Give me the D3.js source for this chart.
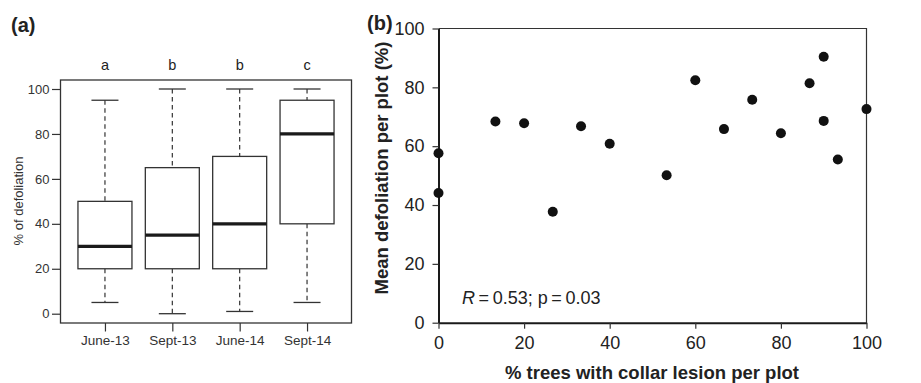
<!DOCTYPE html>
<html>
<head>
<meta charset="utf-8">
<script src="https://cdn.jsdelivr.net/npm/d3@7"></script>
<style>
  body { margin: 0; background: #fff; }
  svg { display: block; font-family: "Liberation Sans", Arial, Helvetica, sans-serif; }
</style>
</head>
<body>
<svg id="chart" width="921" height="383"></svg>
<script>
// panel (a) boxplot summaries
var periods = ["June-13", "Sept-13", "June-14", "Sept-14"];
var groupLetters = ["a", "b", "b", "c"];
var whiskerLow = [5, 0, 1, 5];
var quart1 = [20, 20, 20, 40];
var medians = [30, 35, 40, 80];
var quart3 = [50, 65, 70, 95];
var whiskerHigh = [95, 100, 100, 100];
var boxTicks = [0, 20, 40, 60, 80, 100];

// panel (b) scatter
var lesionPct = [0, 0, 13.3, 20, 26.7, 33.3, 40, 53.3, 60, 66.7, 73.3, 80, 86.7, 90, 90, 93.3, 100];
var meanDefol = [57.6, 44.1, 68.4, 67.8, 37.7, 66.8, 60.8, 50.1, 82.4, 65.8, 75.8, 64.4, 81.4, 90.4, 68.6, 55.5, 72.6];
var scatterTicks = [0, 20, 40, 60, 80, 100];

var svg = d3.select("#chart");

// ---------- panel (a) ----------
var a = {left: 60.5, right: 351.5, top: 80, bottom: 323};
var xA = d3.scaleLinear().domain([0.34, 4.66]).range([a.left, a.right]);
var yA = d3.scaleLinear().domain([0, 100]).range([313.7, 89]);
var boxW = 54, capW = 27;
var ink = "#333";

var gA = svg.append("g");

gA.append("text").attr("x", 11).attr("y", 32)
  .attr("font-size", 20).attr("font-weight", "bold").attr("fill", "#222")
  .text("(a)");

// y axis
var axA = d3.axisLeft(yA).tickValues(boxTicks).tickSize(8.5).tickPadding(2.5);
gA.append("g").attr("transform", "translate(" + a.left + ",0)").call(axA)
  .call(function(g) {
    g.select(".domain").remove();
    g.selectAll("line").attr("stroke", ink).attr("stroke-width", 1.2);
    g.selectAll("text").attr("font-size", 13).attr("fill", "#333").attr("font-family", null);
  });

// x axis ticks
var axAx = d3.axisBottom(xA).tickValues([1, 2, 3, 4]).tickSize(8.5).tickPadding(4)
  .tickFormat(function(d) { return periods[d - 1]; });
gA.append("g").attr("transform", "translate(0," + a.bottom + ")").call(axAx)
  .call(function(g) {
    g.select(".domain").remove();
    g.selectAll("line").attr("stroke", ink).attr("stroke-width", 1.2);
    g.selectAll("text").attr("font-size", 13.5).attr("fill", "#333").attr("font-family", null);
  });

gA.append("text")
  .attr("transform", "translate(23,201) rotate(-90)")
  .attr("text-anchor", "middle").attr("font-size", 13).attr("fill", "#333")
  .text("% of defoliation");

var boxes = gA.selectAll("g.box").data(periods).enter().append("g").attr("class", "box");

boxes.append("line")
  .attr("x1", function(d, i) { return xA(i + 1); })
  .attr("x2", function(d, i) { return xA(i + 1); })
  .attr("y1", function(d, i) { return yA(whiskerHigh[i]); })
  .attr("y2", function(d, i) { return yA(quart3[i]); })
  .attr("stroke", ink).attr("stroke-width", 1.2).attr("stroke-dasharray", "4.5,3.5");
boxes.append("line")
  .attr("x1", function(d, i) { return xA(i + 1); })
  .attr("x2", function(d, i) { return xA(i + 1); })
  .attr("y1", function(d, i) { return yA(quart1[i]); })
  .attr("y2", function(d, i) { return yA(whiskerLow[i]); })
  .attr("stroke", ink).attr("stroke-width", 1.2).attr("stroke-dasharray", "4.5,3.5");
boxes.append("line")
  .attr("x1", function(d, i) { return xA(i + 1) - capW / 2; })
  .attr("x2", function(d, i) { return xA(i + 1) + capW / 2; })
  .attr("y1", function(d, i) { return yA(whiskerHigh[i]); })
  .attr("y2", function(d, i) { return yA(whiskerHigh[i]); })
  .attr("stroke", ink).attr("stroke-width", 1.3);
boxes.append("line")
  .attr("x1", function(d, i) { return xA(i + 1) - capW / 2; })
  .attr("x2", function(d, i) { return xA(i + 1) + capW / 2; })
  .attr("y1", function(d, i) { return yA(whiskerLow[i]); })
  .attr("y2", function(d, i) { return yA(whiskerLow[i]); })
  .attr("stroke", ink).attr("stroke-width", 1.3);
boxes.append("rect")
  .attr("x", function(d, i) { return xA(i + 1) - boxW / 2; })
  .attr("y", function(d, i) { return yA(quart3[i]); })
  .attr("width", boxW)
  .attr("height", function(d, i) { return yA(quart1[i]) - yA(quart3[i]); })
  .attr("fill", "#fff").attr("stroke", ink).attr("stroke-width", 1.3);
boxes.append("line")
  .attr("x1", function(d, i) { return xA(i + 1) - boxW / 2; })
  .attr("x2", function(d, i) { return xA(i + 1) + boxW / 2; })
  .attr("y1", function(d, i) { return yA(medians[i]); })
  .attr("y2", function(d, i) { return yA(medians[i]); })
  .attr("stroke", "#1a1a1a").attr("stroke-width", 3.2);

gA.selectAll("text.letter").data(groupLetters).enter().append("text")
  .attr("class", "letter")
  .attr("x", function(d, i) { return xA(i + 1); })
  .attr("y", 70)
  .attr("text-anchor", "middle").attr("font-size", 14.5).attr("fill", "#222")
  .text(function(d) { return d; });

gA.append("rect")
  .attr("x", a.left).attr("y", a.top)
  .attr("width", a.right - a.left).attr("height", a.bottom - a.top)
  .attr("fill", "none").attr("stroke", ink).attr("stroke-width", 1.3);

// ---------- panel (b) ----------
var b = {left: 438.5, right: 866.5, top: 28.5, bottom: 322.7};
var xB = d3.scaleLinear().domain([0, 100]).range([b.left, b.right]);
var yB = d3.scaleLinear().domain([0, 100]).range([b.bottom, b.top]);

var gB = svg.append("g");

// thin top and right frame
gB.append("path")
  .attr("d", "M" + b.left + "," + b.top + "H" + b.right + "V" + b.bottom)
  .attr("fill", "none").attr("stroke", "#333").attr("stroke-width", 1.2);

var axBy = d3.axisLeft(yB).tickValues(scatterTicks).tickSize(6).tickPadding(8).tickSizeOuter(0);
gB.append("g").attr("transform", "translate(" + b.left + ",0)").call(axBy)
  .call(function(g) {
    g.select(".domain").attr("stroke", "#1a1a1a").attr("stroke-width", 2);
    g.selectAll("line").attr("stroke", "#333").attr("stroke-width", 1.2);
    g.selectAll("text").attr("font-size", 18).attr("fill", "#222").attr("font-family", null);
  });

var axBx = d3.axisBottom(xB).tickValues(scatterTicks).tickSize(6).tickPadding(8).tickSizeOuter(0);
gB.append("g").attr("transform", "translate(0," + b.bottom + ")").call(axBx)
  .call(function(g) {
    g.select(".domain").attr("stroke", "#1a1a1a").attr("stroke-width", 2);
    g.selectAll("line").attr("stroke", "#333").attr("stroke-width", 1.2);
    g.selectAll("text").attr("font-size", 18).attr("fill", "#222").attr("font-family", null);
  });

gB.selectAll("circle").data(lesionPct).enter().append("circle")
  .attr("cx", function(d) { return xB(d); })
  .attr("cy", function(d, i) { return yB(meanDefol[i]); })
  .attr("r", 5)
  .attr("fill", "#111");

gB.append("text").attr("x", 367).attr("y", 30)
  .attr("font-size", 20).attr("font-weight", "bold").attr("fill", "#222")
  .text("(b)");

gB.append("text")
  .attr("transform", "translate(388,168) rotate(-90)")
  .attr("text-anchor", "middle").attr("font-size", 18.5).attr("font-weight", "bold").attr("fill", "#222")
  .text("Mean defoliation per plot (%)");

gB.append("text")
  .attr("x", 652).attr("y", 379)
  .attr("text-anchor", "middle").attr("font-size", 18.5).attr("font-weight", "bold").attr("fill", "#222")
  .text("% trees with collar lesion per plot");

var stat = gB.append("text").attr("x", 462).attr("y", 304)
  .attr("font-size", 18).attr("fill", "#222");
stat.append("tspan").attr("font-style", "italic").text("R");
stat.append("tspan").text("\u2009=\u20090.53; p\u2009=\u20090.03");
</script>
</body>
</html>
